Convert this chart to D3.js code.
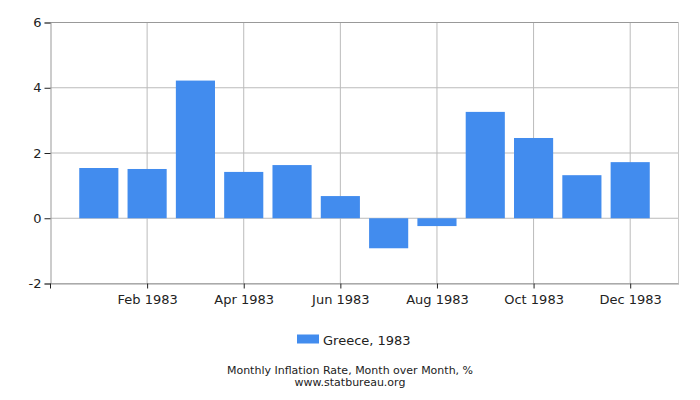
<!DOCTYPE html>
<html lang="en">
<head>
<meta charset="UTF-8">
<title>Greece Monthly Inflation 1983</title>
<script src="https://cdnjs.cloudflare.com/ajax/libs/d3/7.8.5/d3.min.js"></script>
<style>
    body { margin: 0; background: #fff; font-family: "DejaVu Sans", sans-serif; }
    .axis text { font-family: "DejaVu Sans", sans-serif; font-size: 13px; fill: #222; }
</style>
</head>
<body>
<div id="chart"></div>
<script>
// data
const months = ['Jan', 'Feb', 'Mar', 'Apr', 'May', 'Jun', 'Jul', 'Aug', 'Sep', 'Oct', 'Nov', 'Dec'];
const values = [1.54, 1.51, 4.22, 1.42, 1.63, 0.68, -0.92, -0.24, 3.26, 2.46, 1.32, 1.72];
const yTicks = [-2, 0, 2, 4, 6];
const labelledMonths = ['Feb', 'Apr', 'Jun', 'Aug', 'Oct', 'Dec'];
const seriesName = 'Greece, 1983';

const width = 700, height = 400;
const plotL = 50.5, plotR = 678.5, plotT = 22.5, plotB = 283.5;
const barColor = '#428cee';
const gridColor = '#bbbbbb';

const svg = d3.select('#chart').append('svg')
    .attr('width', width)
    .attr('height', height);

const x = d3.scalePoint()
    .domain(months)
    .range([plotL, plotR])
    .padding(1);

const y = d3.scaleLinear()
    .domain([-2, 6])
    .range([plotB, plotT]);

const barW = x.step() * 0.81;

// horizontal grid
svg.append('g')
    .selectAll('line')
    .data(yTicks)
    .join('line')
    .attr('x1', plotL).attr('x2', plotR)
    .attr('y1', d => y(d)).attr('y2', d => y(d))
    .attr('stroke', gridColor);

// vertical grid at labelled months
svg.append('g')
    .selectAll('line')
    .data(labelledMonths)
    .join('line')
    .attr('x1', d => x(d)).attr('x2', d => x(d))
    .attr('y1', plotT).attr('y2', plotB)
    .attr('stroke', gridColor);

// frame
svg.append('line').attr('x1', plotL).attr('x2', plotR).attr('y1', plotT).attr('y2', plotT).attr('stroke', '#999');
svg.append('line').attr('x1', plotR).attr('x2', plotR).attr('y1', plotT).attr('y2', plotB).attr('stroke', '#c8c8c8');

// bars
svg.append('g')
    .attr('fill', barColor)
    .selectAll('rect')
    .data(values)
    .join('rect')
    .attr('x', (d, i) => x(months[i]) - barW / 2)
    .attr('width', barW)
    .attr('y', d => y(Math.max(0, d)))
    .attr('height', d => Math.abs(y(d) - y(0)));

// y axis (plain hyphen for negatives, like the original)
const yAxis = svg.append('g')
    .attr('class', 'axis')
    .attr('transform', `translate(${plotL},0)`)
    .call(d3.axisLeft(y).tickValues(yTicks).tickFormat(d => String(d)).tickSize(6).tickPadding(3));
yAxis.select('.domain').attr('stroke', '#999');
yAxis.selectAll('.tick line').attr('stroke', '#222');

// x axis
const xAxis = svg.append('g')
    .attr('class', 'axis')
    .attr('transform', `translate(0,${plotB})`)
    .call(d3.axisBottom(x)
        .tickValues(labelledMonths)
        .tickFormat(m => m + ' 1983')
        .tickSize(5)
        .tickPadding(6)
        .tickSizeOuter(0));
xAxis.select('.domain').attr('stroke', '#999');
xAxis.selectAll('.tick line').attr('stroke', '#222');
svg.append('line')
    .attr('x1', plotL).attr('x2', plotL)
    .attr('y1', plotB).attr('y2', plotB + 5)
    .attr('stroke', '#222');

// legend
svg.append('rect')
    .attr('x', 297).attr('y', 334.5)
    .attr('width', 22).attr('height', 9)
    .attr('fill', barColor);
svg.append('text')
    .attr('x', 323).attr('y', 345)
    .attr('font-size', 13)
    .attr('fill', '#222')
    .text(seriesName);

// caption
svg.append('text')
    .attr('x', 350).attr('y', 374)
    .attr('text-anchor', 'middle')
    .attr('font-size', 11)
    .attr('fill', '#222')
    .text('Monthly Inflation Rate, Month over Month, %');
svg.append('text')
    .attr('x', 350).attr('y', 386)
    .attr('text-anchor', 'middle')
    .attr('font-size', 11)
    .attr('fill', '#222')
    .text('www.statbureau.org');
</script>
</body>
</html>
